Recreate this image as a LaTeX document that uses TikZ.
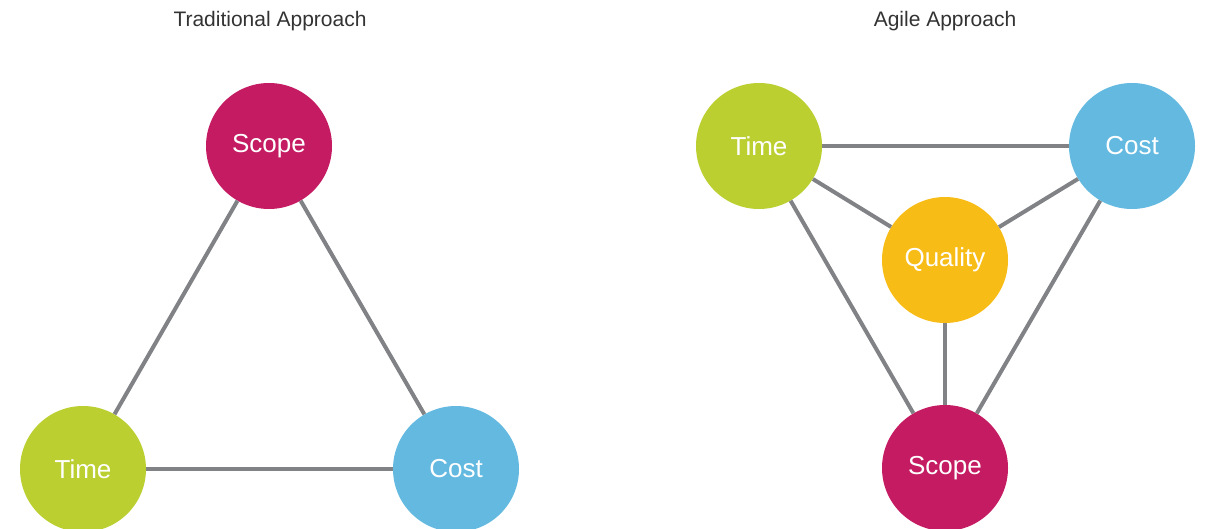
\documentclass[tikz,border=0pt]{standalone}
\usepackage{fontspec}
\setmainfont{Liberation Sans}
\definecolor{cmag}{HTML}{C41B62}
\definecolor{cgreen}{HTML}{BBCF31}
\definecolor{cblue}{HTML}{63B9E0}
\definecolor{cyellow}{HTML}{F8BC17}
\definecolor{cline}{HTML}{808285}
\definecolor{ctitle}{HTML}{333333}
\tikzset{
  circ/.style={circle, minimum size=126pt, inner sep=0pt, text=white, font=\fontsize{26}{30}\selectfont},
  link/.style={draw=cline, line width=4pt},
  title/.style={text=ctitle, font=\fontsize{21}{24}\selectfont}
}
\begin{document}
\begin{tikzpicture}[x=1pt,y=-1pt]
\useasboundingbox (0,0) rectangle (1210,529);
\clip (0,0) rectangle (1210,529);
\node[title] (t1) at (270,21) {Traditional Approach};
\node[title] (t2) at (945,21) {Agile Approach};
% traditional
\node[circ, fill=cmag] (sc1) at (269,146) {Scope};
\node[circ, fill=cgreen] (ti1) at (83,469) {Time};
\node[circ, fill=cblue] (co1) at (456,469) {Cost};
\draw[link] (sc1) -- (ti1);
\draw[link] (sc1) -- (co1);
\draw[link] (ti1) -- (co1);
% agile
\node[circ, fill=cgreen] (ti2) at (759,146) {Time};
\node[circ, fill=cblue] (co2) at (1132,146) {Cost};
\node[circ, fill=cyellow] (qu2) at (945,260) {Quality};
\node[circ, fill=cmag] (sc2) at (945,468) {Scope};
\draw[link] (ti2) -- (co2);
\draw[link] (ti2) -- (qu2);
\draw[link] (co2) -- (qu2);
\draw[link] (qu2) -- (sc2);
\draw[link] (ti2) -- (sc2);
\draw[link] (co2) -- (sc2);
\end{tikzpicture}
\end{document}
